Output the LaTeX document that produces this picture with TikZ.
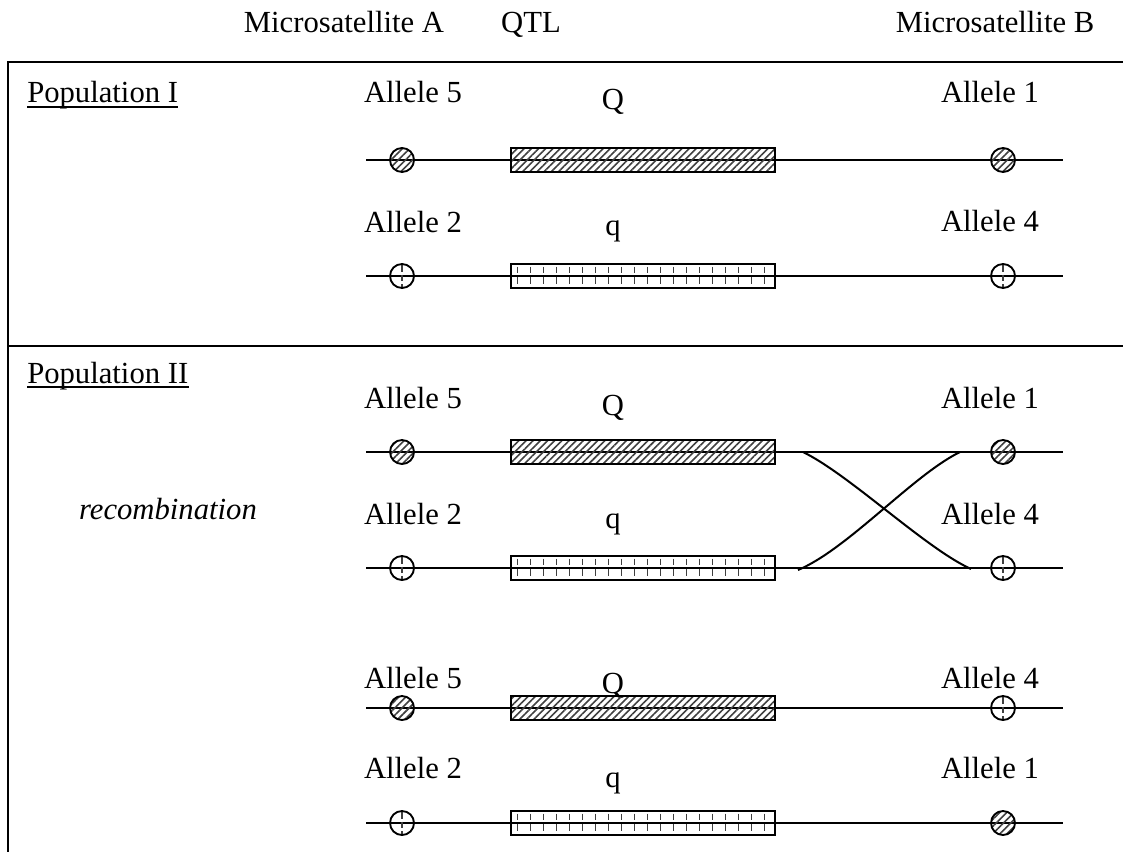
\documentclass[tikz,border=0pt]{standalone}
\usepackage{fontspec}
\setmainfont{Liberation Serif}
\usetikzlibrary{patterns.meta}
\begin{document}
\begin{tikzpicture}[x=0.75pt,y=-0.75pt,
  lbl/.style={inner sep=0pt, anchor=base, font=\fontsize{23pt}{27pt}\selectfont},
  lblw/.style={lbl, anchor=base west},
  frame/.style={line width=2pt},
  chrom/.style={line width=1.5pt},
  cross/.style={line width=1.5pt},
  hatchc/.style={circle, draw, line width=1.4pt, minimum size=18pt, inner sep=0pt,
    pattern={Lines[angle=45,distance=3.8pt,line width=1.2pt]}, pattern color=black!75},
  openc/.style={circle, draw, line width=1.4pt, minimum size=18pt, inner sep=0pt,
    path picture={\draw[black!75, line width=1pt, dash pattern=on 5pt off 2pt]
      ([yshift=-1pt]path picture bounding box.north) -- (path picture bounding box.south);}},
  Qbox/.style={rectangle, draw, line width=1.4pt, minimum width=198pt, minimum height=18pt, inner sep=0pt,
    pattern={Lines[angle=45,distance=3.8pt,line width=1.2pt]}, pattern color=black!75},
  qbox/.style={rectangle, draw, line width=1.4pt, minimum width=198pt, minimum height=18pt, inner sep=0pt,
    path picture={\foreach \i in {0,...,19}{\draw[black!75, line width=1pt, dash pattern=on 5pt off 3pt]
      ([xshift=5pt+\i*9.75pt, yshift=-2pt]path picture bounding box.north west) -- ++(0,-14pt);}}},
]
\useasboundingbox (0,0) rectangle (1123,852);
% header
\node[lbl] (hA) at (344,33) {Microsatellite A};
\node[lbl] (hQ) at (531,33) {QTL};
\node[lbl] (hB) at (995,33) {Microsatellite B};
% frame
\coordinate (f1) at (8,62);
\coordinate (f2) at (1123,62);
\coordinate (f3) at (8,852);
\coordinate (m1) at (8,346);
\coordinate (m2) at (1123,346);
\draw[frame] (f2) -- (f1) -- (f3);
\draw[frame] (m1) -- (m2);
% ---------- Population I
\node[lblw] (p1) at (27,103) {Population I};
\draw[line width=1.5pt] ([yshift=-3pt]p1.base west) -- ([yshift=-3pt]p1.base east);
\node[lbl] (a5) at (413,103) {Allele 5};
\node[lbl] (Q1) at (613,110) {Q};
\node[lbl] (a1) at (990,103) {Allele 1};
\coordinate (l1a) at (366,160); \coordinate (l1b) at (1063,160);
\draw[chrom] (l1a) -- (l1b);
\node[hatchc] (c1L) at (402,160) {};
\node[Qbox] (r1) at (643,160) {};
\node[hatchc] (c1R) at (1003,160) {};
\node[lbl] (a2) at (413,233) {Allele 2};
\node[lbl] (q1) at (613,235) {q};
\node[lbl] (a4) at (990,232) {Allele 4};
\coordinate (l2a) at (366,276); \coordinate (l2b) at (1063,276);
\draw[chrom] (l2a) -- (l2b);
\node[openc] (c2L) at (402,276) {};
\node[qbox] (r2) at (643,276) {};
\node[openc] (c2R) at (1003,276) {};
% ---------- Population II
\node[lblw] (p2) at (27,383) {Population II};
\draw[line width=1.5pt] ([yshift=-3pt]p2.base west) -- ([yshift=-3pt]p2.base east);
\node[lbl, font=\fontsize{23pt}{27pt}\selectfont\itshape] (rec) at (168,519) {recombination};
\node[lbl] (b5) at (413,408) {Allele 5};
\node[lbl] (Q2) at (613,415) {Q};
\node[lbl] (b1) at (990,408) {Allele 1};
\coordinate (l3a) at (366,452); \coordinate (l3b) at (1063,452);
\draw[chrom] (l3a) -- (l3b);
\node[hatchc] (c3L) at (402,452) {};
\node[Qbox] (r3) at (643,452) {};
\node[hatchc] (c3R) at (1003,452) {};
\node[lbl] (b2) at (413,524) {Allele 2};
\node[lbl] (q2) at (613,528) {q};
\node[lbl] (b4) at (990,524) {Allele 4};
\coordinate (l4a) at (366,568); \coordinate (l4b) at (1063,568);
\draw[chrom] (l4a) -- (l4b);
\node[openc] (c4L) at (402,568) {};
\node[qbox] (r4) at (643,568) {};
\node[openc] (c4R) at (1003,568) {};
% crossing over
\coordinate (x1s) at (803,452); \coordinate (x1e) at (971,569);
\coordinate (x2s) at (960,452); \coordinate (x2e) at (798,570);
\draw[cross] (x1s) .. controls (850,475) and (925,548) .. (x1e);
\draw[cross] (x2s) .. controls (913,475) and (848,549) .. (x2e);
% recombinant products
\node[lbl] (d5) at (413,688) {Allele 5};
\node[lbl] (Q3) at (613,693) {Q};
\node[lbl] (d4) at (990,688) {Allele 4};
\coordinate (l5a) at (366,708); \coordinate (l5b) at (1063,708);
\draw[chrom] (l5a) -- (l5b);
\node[hatchc] (c5L) at (402,708) {};
\node[Qbox] (r5) at (643,708) {};
\node[openc] (c5R) at (1003,708) {};
\node[lbl] (d2) at (413,778) {Allele 2};
\node[lbl] (q3) at (613,787) {q};
\node[lbl] (d1) at (990,778) {Allele 1};
\coordinate (l6a) at (366,823); \coordinate (l6b) at (1063,823);
\draw[chrom] (l6a) -- (l6b);
\node[openc] (c6L) at (402,823) {};
\node[qbox] (r6) at (643,823) {};
\node[hatchc] (c6R) at (1003,823) {};
\end{tikzpicture}
\end{document}
